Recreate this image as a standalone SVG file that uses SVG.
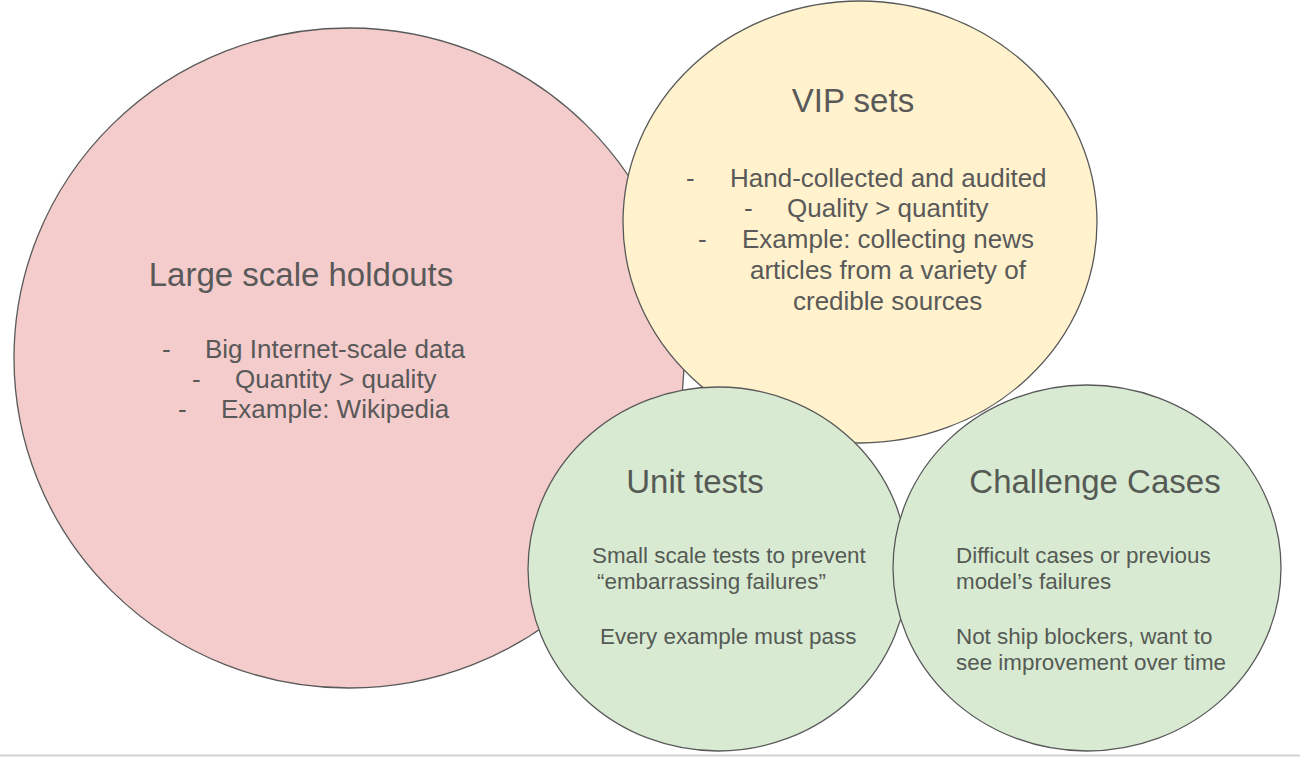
<svg xmlns="http://www.w3.org/2000/svg" width="1300" height="757" viewBox="0 0 1300 757">
  <style>
    .shape { stroke: #595959; stroke-width: 1.3; }
    .title { font-family: "Liberation Sans", Arial, sans-serif; font-size: 33px; fill: #595959; text-anchor: middle; }
    .bullet { font-family: "Liberation Sans", Arial, sans-serif; font-size: 26px; fill: #595959; }
    .body { font-family: "Liberation Sans", Arial, sans-serif; font-size: 22.4px; fill: #555a55; }
    .gtitle { font-family: "Liberation Sans", Arial, sans-serif; font-size: 33px; fill: #555a55; text-anchor: middle; }
  </style>
  <rect x="0" y="0" width="1300" height="757" fill="#ffffff"/>
  <g id="large-scale-holdouts">
    <ellipse class="shape" cx="349" cy="358" rx="335" ry="330" fill="#f4cccc"/>
    <text class="title" x="301" y="286">Large scale holdouts</text>
    <text class="bullet" x="162" y="358">-</text>
    <text class="bullet" x="205" y="358">Big Internet-scale data</text>
    <text class="bullet" x="192" y="388">-</text>
    <text class="bullet" x="235" y="388">Quantity &gt; quality</text>
    <text class="bullet" x="178" y="418">-</text>
    <text class="bullet" x="221" y="418">Example: Wikipedia</text>
  </g>
  <g id="vip-sets">
    <ellipse class="shape" cx="860" cy="222" rx="237" ry="221" fill="#fff2cc"/>
    <text class="title" x="853" y="112">VIP sets</text>
    <text class="bullet" x="686" y="187">-</text>
    <text class="bullet" x="730" y="187">Hand-collected and audited</text>
    <text class="bullet" x="744" y="217">-</text>
    <text class="bullet" x="787" y="217">Quality &gt; quantity</text>
    <text class="bullet" x="698" y="248">-</text>
    <text class="bullet" x="742" y="248">Example: collecting news</text>
    <text class="bullet" x="750" y="279">articles from a variety of</text>
    <text class="bullet" x="793" y="310">credible sources</text>
  </g>
  <g id="unit-tests">
    <ellipse class="shape" cx="718" cy="569" rx="190" ry="182" fill="#d9ead3"/>
    <text class="gtitle" x="695" y="493">Unit tests</text>
    <text class="body" x="592" y="563">Small scale tests to prevent</text>
    <text class="body" x="597" y="589">“embarrassing failures”</text>
    <text class="body" x="600" y="644">Every example must pass</text>
  </g>
  <g id="challenge-cases">
    <ellipse class="shape" cx="1087" cy="568" rx="194" ry="183" fill="#d9ead3"/>
    <text class="gtitle" x="1095" y="493">Challenge Cases</text>
    <text class="body" x="956" y="563">Difficult cases or previous</text>
    <text class="body" x="956" y="589">model’s failures</text>
    <text class="body" x="956" y="644">Not ship blockers, want to</text>
    <text class="body" x="956" y="670">see improvement over time</text>
  </g>
  <g id="connectors"></g>
  <line x1="0" y1="755.5" x2="1300" y2="755.5" stroke="#d4d4d4" stroke-width="2"/>
</svg>
